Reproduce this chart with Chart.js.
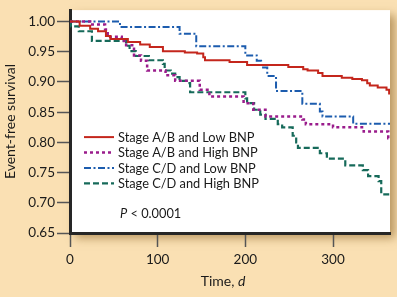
<!DOCTYPE html>
<html><head><meta charset="utf-8">
<script src="https://cdn.jsdelivr.net/npm/chart.js@4.4.0/dist/chart.umd.min.js"></script>
<style>
html,body{margin:0;padding:0;background:#fae0b3;}
canvas{display:block;}
</style></head><body>
<canvas id="c" width="397" height="297"></canvas>
<script>
const seriesLabels = ["Stage A/B and Low BNP", "Stage A/B and High BNP", "Stage C/D and Low BNP", "Stage C/D and High BNP"];

const abLowTimes = [0, 11, 23, 32, 41, 46, 66, 80, 91, 106, 131, 145, 152, 154, 182, 202, 249, 266, 271, 283, 288, 310, 322, 333, 339, 342, 351, 361, 364, 365];
const abLowSurv  = [1.000, 0.993, 0.988, 0.984, 0.976, 0.971, 0.966, 0.962, 0.958, 0.951, 0.949, 0.947, 0.941, 0.936, 0.933, 0.928, 0.925, 0.921, 0.919, 0.915, 0.910, 0.907, 0.905, 0.903, 0.898, 0.894, 0.891, 0.887, 0.881, 0.881];

const abHighTimes = [0, 23, 40, 43, 59, 64, 73, 81, 88, 109, 120, 148, 159, 198, 209, 223, 265, 269, 300, 335, 363, 365];
const abHighSurv  = [1.000, 0.995, 0.987, 0.975, 0.968, 0.961, 0.944, 0.935, 0.919, 0.911, 0.902, 0.887, 0.876, 0.865, 0.854, 0.843, 0.838, 0.830, 0.825, 0.818, 0.807, 0.807];

const cdLowTimes = [0, 57, 125, 144, 200, 213, 218, 225, 235, 265, 285, 288, 323, 365];
const cdLowSurv  = [1.000, 0.991, 0.980, 0.959, 0.944, 0.935, 0.924, 0.910, 0.885, 0.864, 0.851, 0.843, 0.831, 0.831];

const cdHighTimes = [0, 1, 10, 25, 64, 68, 75, 90, 106, 108, 115, 120, 125, 133, 137, 200, 202, 210, 217, 223, 237, 242, 254, 258, 260, 285, 293, 314, 334, 340, 352, 355, 365];
const cdHighSurv  = [1.000, 0.992, 0.984, 0.968, 0.960, 0.951, 0.943, 0.936, 0.930, 0.919, 0.914, 0.908, 0.902, 0.898, 0.883, 0.873, 0.865, 0.854, 0.846, 0.839, 0.830, 0.825, 0.811, 0.800, 0.791, 0.782, 0.773, 0.762, 0.754, 0.744, 0.736, 0.714, 0.714];

const yTickValues = [0.65, 0.70, 0.75, 0.80, 0.85, 0.90, 0.95, 1.00];
const xTickValues = [0, 100, 200, 300];
const xTitle = ["Time, ", "d"];
const yTitle = "Event-free survival";
const pValueText = ["P", " < 0.0001"];

function pts(t, s) { return t.map((x, i) => ({ x: x, y: s[i] })); }

const FONT = "Lato";

const bgPlugin = {
  id: 'bg',
  beforeDraw(chart) {
    const { ctx, chartArea: a } = chart;
    ctx.save();
    ctx.fillStyle = '#fae0b3';
    ctx.fillRect(0, 0, chart.width, chart.height);
    ctx.shadowColor = 'rgba(140,100,40,0.6)';
    ctx.shadowBlur = 9;
    ctx.shadowOffsetX = 5;
    ctx.shadowOffsetY = 5;
    ctx.fillStyle = '#ffffff';
    ctx.fillRect(a.left, a.top, a.right - a.left, a.bottom - a.top);
    ctx.restore();
  }
};

const annotPlugin = {
  id: 'annot',
  afterDraw(chart) {
    const { ctx, chartArea: a } = chart;
    ctx.save();
    chart.data.datasets.forEach((ds, i) => {
      const y = a.top + 127 + i * 15.4;
      ctx.beginPath();
      ctx.strokeStyle = ds.borderColor;
      ctx.lineWidth = ds.borderWidth;
      ctx.setLineDash(ds.borderDash || []);
      ctx.moveTo(a.left + 14, y);
      ctx.lineTo(a.left + 44, y);
      ctx.stroke();
      ctx.setLineDash([]);
      ctx.fillStyle = '#1a1a1a';
      ctx.font = '12.8px ' + FONT;
      ctx.textBaseline = 'middle';
      ctx.textAlign = 'left';
      ctx.fillText(ds.label, a.left + 48, y + 0.5);
    });
    ctx.textBaseline = 'alphabetic';
    ctx.font = 'italic 12.8px ' + FONT;
    let px = a.left + 50;
    const py = a.top + 208;
    ctx.fillText(pValueText[0], px, py);
    px += ctx.measureText(pValueText[0]).width;
    ctx.font = '12.8px ' + FONT;
    ctx.fillText(pValueText[1], px, py);
    ctx.font = '14px ' + FONT;
    const w1 = ctx.measureText(xTitle[0]).width;
    ctx.font = 'italic 14px ' + FONT;
    const w2 = ctx.measureText(xTitle[1]).width;
    let tx = (a.left + a.right) / 2 - 7 - (w1 + w2) / 2;
    ctx.font = '14px ' + FONT;
    ctx.fillText(xTitle[0], tx, 286);
    ctx.font = 'italic 14px ' + FONT;
    ctx.fillText(xTitle[1], tx + w1, 286);
    ctx.restore();
  }
};

const common = { pointRadius: 0, pointHoverRadius: 0, fill: false, stepped: true, tension: 0 };

new Chart(document.getElementById('c'), {
  type: 'line',
  data: {
    datasets: [
      Object.assign({ label: seriesLabels[0], data: pts(abLowTimes, abLowSurv), borderColor: '#c4261c', borderWidth: 2, borderDash: [] }, common),
      Object.assign({ label: seriesLabels[1], data: pts(abHighTimes, abHighSurv), borderColor: '#9a1c8c', borderWidth: 2.5, borderDash: [3, 3] }, common),
      Object.assign({ label: seriesLabels[2], data: pts(cdLowTimes, cdLowSurv), borderColor: '#1c5cae', borderWidth: 2, borderDash: [7, 2.5, 2, 2.5] }, common),
      Object.assign({ label: seriesLabels[3], data: pts(cdHighTimes, cdHighSurv), borderColor: '#166a5a', borderWidth: 2.2, borderDash: [6, 3] }, common)
    ]
  },
  options: {
    responsive: false,
    animation: false,
    devicePixelRatio: 1,
    layout: { padding: { top: 5, right: 7, left: 0, bottom: 0 } },
    plugins: { legend: { display: false }, tooltip: { enabled: false } },
    scales: {
      x: {
        type: 'linear', min: 0, max: 365,
        afterBuildTicks: s => { s.ticks = xTickValues.map(v => ({ value: v })); },
        afterFit: s => { s.height = 64; },
        grid: { drawOnChartArea: false, drawTicks: true, tickLength: 14, tickColor: '#555', tickWidth: 1.5 },
        border: { display: true, color: '#262626', width: 3 },
        ticks: { font: { family: FONT, size: 13.5 }, color: '#1a1a1a', padding: 5, maxRotation: 0, autoSkip: false }
      },
      y: {
        type: 'linear', min: 0.65, max: 1.019,
        afterBuildTicks: s => { s.ticks = yTickValues.map(v => ({ value: v })); },
        afterFit: s => { s.width = 70; },
        grid: { drawOnChartArea: false, drawTicks: true, tickLength: 13, tickColor: '#555', tickWidth: 1.5 },
        border: { display: true, color: '#262626', width: 3 },
        ticks: { font: { family: FONT, size: 13.5 }, color: '#1a1a1a', padding: 2, callback: v => Number(v).toFixed(2) },
        title: { display: true, text: yTitle, font: { family: FONT, size: 14 }, color: '#1a1a1a', padding: { top: 2, bottom: 0 } }
      }
    }
  },
  plugins: [bgPlugin, annotPlugin]
});
</script>
</body></html>
